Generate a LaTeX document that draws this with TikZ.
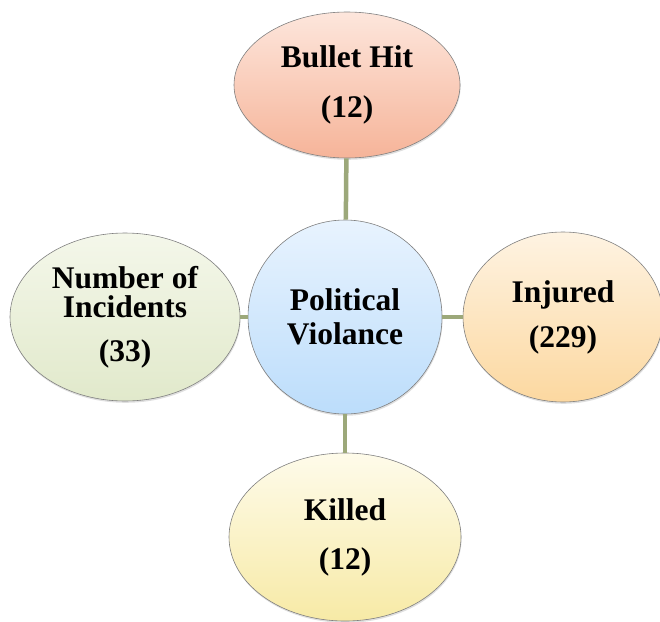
\documentclass[tikz,border=0pt]{standalone}
\usepackage{fontspec}
\setmainfont{Liberation Serif}
\usetikzlibrary{shapes.geometric,shadows}

\definecolor{linkgreen}{HTML}{9CA87A}
\definecolor{rimgray}{HTML}{808080}
\definecolor{pvtop}{HTML}{E8F3FE}
\definecolor{pvbot}{HTML}{BCDDFB}
\definecolor{bhtop}{HTML}{FDE6DC}
\definecolor{bhbot}{HTML}{F6B499}
\definecolor{intop}{HTML}{FEF3E2}
\definecolor{inbot}{HTML}{FCD8A0}
\definecolor{kitop}{HTML}{FEFBEA}
\definecolor{kibot}{HTML}{F7EAA6}
\definecolor{nitop}{HTML}{F4F7EA}
\definecolor{nibot}{HTML}{E1E9CB}

\tikzset{
  bubble/.style={ellipse,draw=rimgray,line width=0.6pt,inner sep=0pt,
    align=center,font=\fontsize{31.5}{29}\selectfont\bfseries,
    drop shadow={opacity=0.25,shadow xshift=0.6pt,shadow yshift=-1.8pt}},
  link/.style={draw=linkgreen,line width=4.5pt}
}

\begin{document}
\begin{tikzpicture}[x=1pt,y=-1pt]
  \useasboundingbox (0,0) rectangle (660,621);

  \node[bubble,circle,minimum size=194pt,top color=pvtop,bottom color=pvbot]
    (pv) at (345,317) {Political\\[5pt]Violance};
  \node[bubble,minimum width=226pt,minimum height=146pt,top color=bhtop,bottom color=bhbot]
    (bullet) at (347,85) {Bullet Hit\\[21pt](12)};
  \node[bubble,minimum width=230pt,minimum height=168pt,top color=nitop,bottom color=nibot]
    (incidents) at (125,317) {Number of\\Incidents\\[15pt](33)};
  \node[bubble,minimum width=200pt,minimum height=170pt,top color=intop,bottom color=inbot]
    (injured) at (563,317) {Injured\\[16pt](229)};
  \node[bubble,minimum width=232pt,minimum height=168pt,top color=kitop,bottom color=kibot]
    (killed) at (345,537) {Killed\\[20pt](12)};

  \path[link] (pv) -- (bullet);
  \path[link] (pv) -- (incidents);
  \path[link] (pv) -- (injured);
  \path[link] (pv) -- (killed);

\end{tikzpicture}
\end{document}
